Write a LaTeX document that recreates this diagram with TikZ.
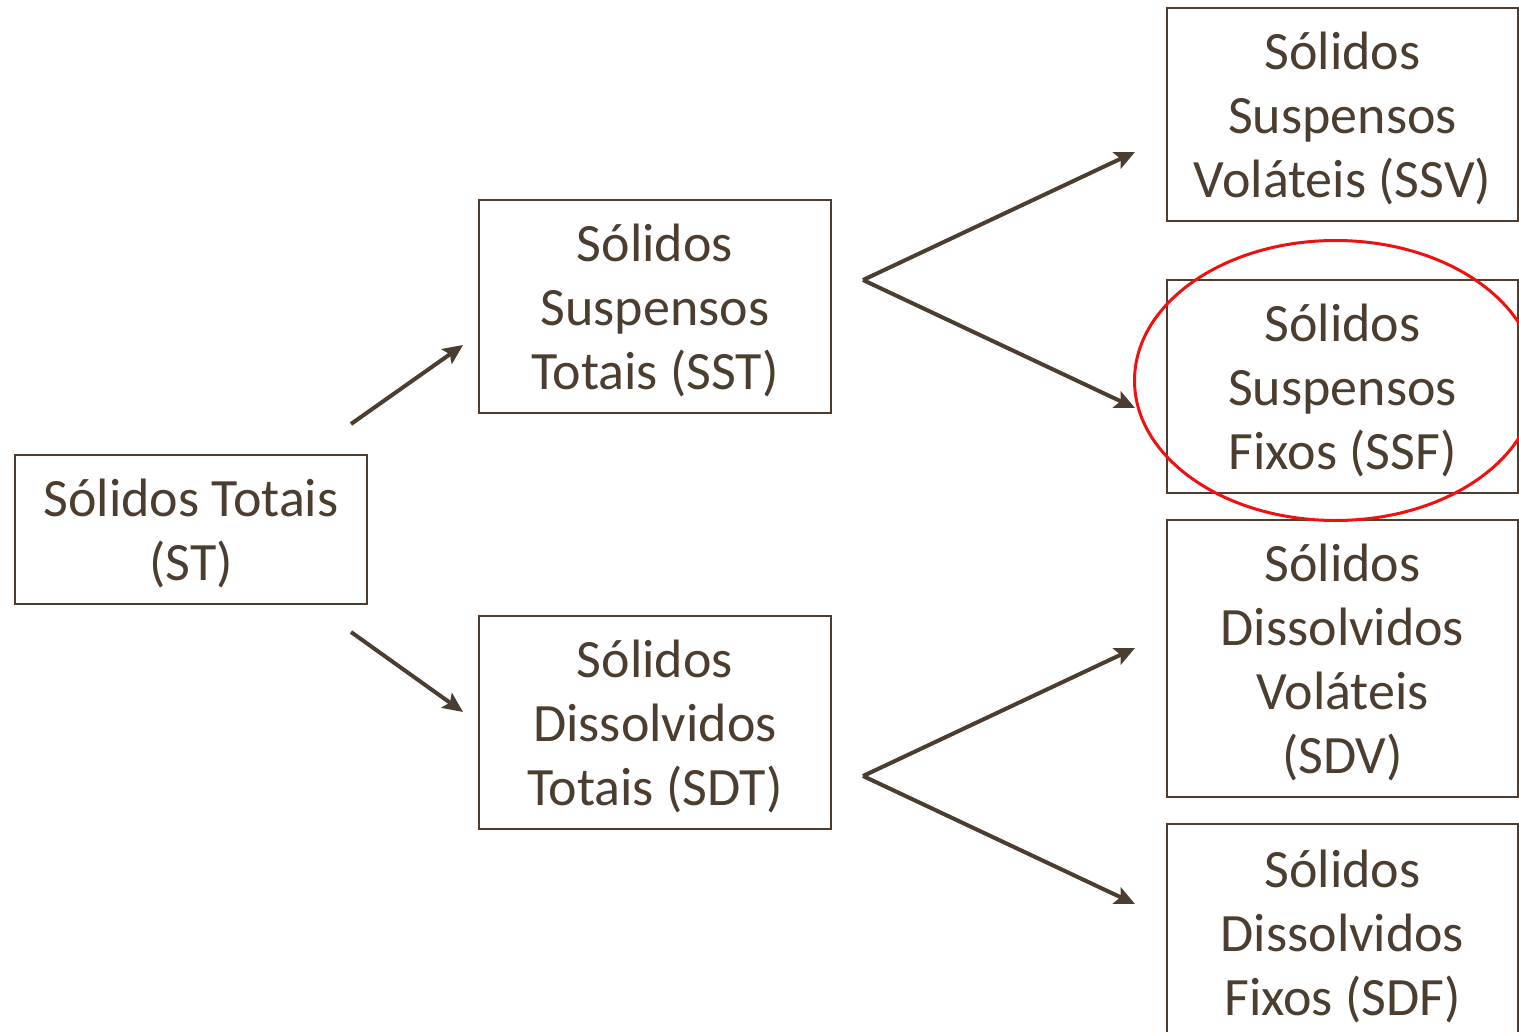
\documentclass[tikz,border=0pt]{standalone}
\usepackage{fontspec}
\setmainfont{Carlito}
\usetikzlibrary{arrows.meta}
\definecolor{ink}{HTML}{4B3D2F}
\definecolor{hilite}{HTML}{F01010}
\tikzset{
  box/.style={draw=ink, line width=1pt, text=ink, align=center,
    font=\fontsize{27}{32}\selectfont, inner sep=0pt,
    minimum width=176pt},
  link/.style={draw=ink, line width=2pt,
    -{Stealth[length=10pt,width=9pt,inset=2pt]}},
  circled/.style={draw=hilite, line width=1.5pt}
}
% a strut that lowers the first line a little inside its box
\newcommand{\topstrut}{\rule{0pt}{23pt}}
\begin{document}
\begin{tikzpicture}[x=0.5pt,y=-0.5pt]
  \useasboundingbox (0,0) rectangle (1519,1032);
  \clip (0,0) rectangle (1519,1032);
  \fill[white] (0,0) rectangle (1519,1032);

  % category boxes
  \node[box, minimum height=74.5pt] (st) at (191,529.5) {\topstrut Sólidos Totais\\(ST)};
  \node[box, minimum height=106.5pt] (sst) at (655,306.5) {\topstrut Sólidos\\Suspensos\\Totais (SST)};
  \node[box, minimum height=106.5pt] (sdt) at (655,722.5) {\topstrut Sólidos\\Dissolvidos\\Totais (SDT)};
  \node[box, minimum width=175.5pt, minimum height=106.5pt] (ssv) at (1342.5,114.5) {\topstrut Sólidos\\Suspensos\\Voláteis (SSV)};
  \node[box, minimum width=175.5pt, minimum height=106.5pt] (ssf) at (1342.5,386.5) {\topstrut Sólidos\\Suspensos\\Fixos (SSF)};
  \node[box, minimum width=175.5pt, minimum height=138.5pt] (sdv) at (1342.5,658.5) {\topstrut Sólidos\\Dissolvidos\\Voláteis\\(SDV)};
  \node[box, minimum width=175.5pt, minimum height=108pt] (sdf) at (1342.5,932) {\topstrut Sólidos\\Dissolvidos\\Fixos (SDF)};

  % connector end points
  \coordinate (stUp) at (351,424);
  \coordinate (stDown) at (351,632);
  \coordinate (sstIn) at (463,345);
  \coordinate (sdtIn) at (463,712);
  \coordinate (sstFork) at (863,280);
  \coordinate (sdtFork) at (863,776);
  \coordinate (ssvIn) at (1135,152);
  \coordinate (ssfIn) at (1135,408);
  \coordinate (sdvIn) at (1135,648);
  \coordinate (sdfIn) at (1135,904);

  % first split
  \draw[link] (stUp) -- (sstIn);
  \draw[link] (stDown) -- (sdtIn);

  % second splits
  \draw[link] (sstFork) -- (ssvIn);
  \draw[link] (sstFork) -- (ssfIn);
  \draw[link] (sdtFork) -- (sdvIn);
  \draw[link] (sdtFork) -- (sdfIn);

  % highlight around the fixed suspended solids
  \draw[circled] (ssf.center) ++(-7,-6) ellipse [x radius=201, y radius=140];
\end{tikzpicture}
\end{document}
